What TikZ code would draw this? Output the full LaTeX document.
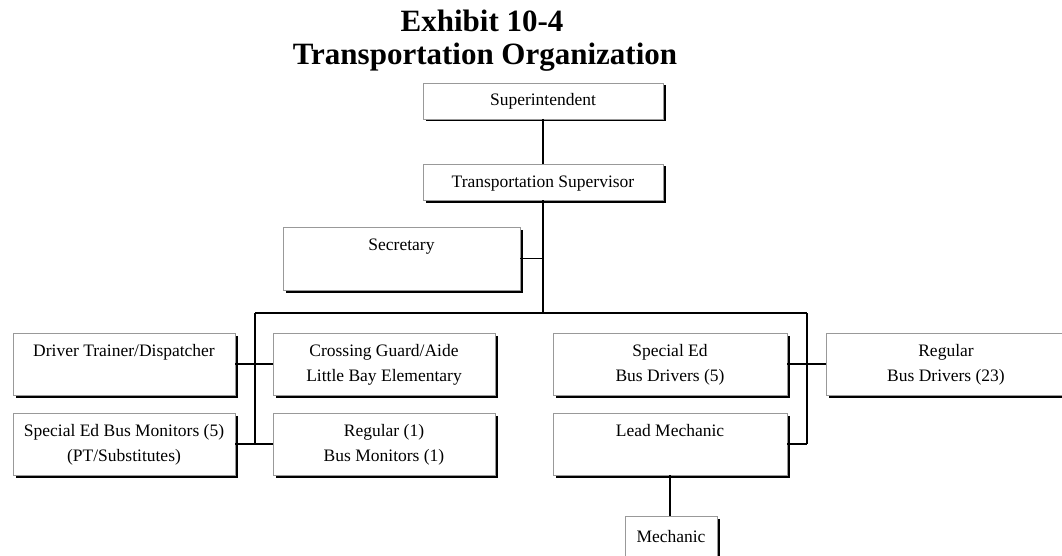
\documentclass[tikz,border=0pt]{standalone}
\usepackage{fontspec}
\setmainfont{Liberation Serif}
\usetikzlibrary{shadows}

% one box of the chart: name, left, top, right, bottom, text (lines split by \\)
\newcommand{\orgbox}[6]{%
  \node[unitbox, minimum width={(#4-#2)*1pt}, minimum height={(#5-#3)*1pt},
        anchor=north west] (#1) at (#2,#3) {};
  \node[boxtext, anchor=base] (#1-t) at ([yshift=-23pt]#1.north)
    {\begin{tabular}[t]{@{}c@{}}#6\end{tabular}};
}

\begin{document}
\begin{tikzpicture}[x=1pt, y=-1pt,
  unitbox/.style={draw=black!40, line width=0.7pt, fill=white, inner sep=0pt,
    outer sep=0pt,
    drop shadow={shadow xshift=2.5pt, shadow yshift=-2.5pt, fill=black, opacity=1}},
  boxtext/.style={font=\fontsize{17.5}{25}\selectfont, inner sep=0pt},
  link/.style={line width=1.6pt, black},
  title/.style={font=\fontsize{31}{33}\selectfont\bfseries, inner sep=0pt, anchor=base}]

\useasboundingbox (0,0) rectangle (1062,556);
\clip (0,0) rectangle (1062,556);

% heading
\node[title] (h1) at (482,32) {Exhibit 10-4};
\node[title] (h2) at (485,65) {Transportation Organization};

% boxes
\orgbox{sup}{423}{83}{663}{119}{Superintendent}
\orgbox{tsup}{423}{164}{663}{200}{Transportation Supervisor}
\orgbox{sec}{283}{227}{520}{290}{Secretary}

\orgbox{dtd}{13}{333}{235}{395}{Driver Trainer/Dispatcher}
\orgbox{cga}{273}{333}{495}{395}{Crossing Guard/Aide\\Little Bay Elementary}
\orgbox{sebd}{553}{333}{787}{395}{Special Ed\\Bus Drivers (5)}
\orgbox{rbd}{826}{333}{1066}{395}{Regular\\Bus Drivers (23)}

\orgbox{sebm}{13}{413}{235}{475}{Special Ed Bus Monitors (5)\\(PT/Substitutes)}
\orgbox{rbm}{273}{413}{495}{475}{Regular (1)\\Bus Monitors (1)}
\orgbox{lm}{553}{413}{787}{475}{Lead Mechanic}
\node[unitbox, minimum width=92pt, minimum height=64pt, anchor=north west]
  (mech) at (625,516) {};
\node[boxtext, anchor=base] (mech-t) at ([yshift=-26pt]mech.north) {Mechanic};

% junction points of the connectors
\coordinate (bus) at (tsup.south |- 0,313);
\coordinate (busL) at (255,313);
\coordinate (busR) at (807,313);
\coordinate (secj) at (tsup.south |- sec.east);
\coordinate (lowL) at (busL |- rbm.west);
\coordinate (lowR) at (busR |- lm.east);
\coordinate (mechj) at (lm.south |- mech.north);

% connectors
\draw[link] (sup.south) -- (tsup.north);
\draw[link] (tsup.south) -- (bus);
\draw[link] (sec.east) -- (secj);
\draw[link] (busL) -- (busR);
\draw[link] (busL) -- (lowL);
\draw[link] (busR) -- (lowR);
\draw[link] (dtd.east) -- (cga.west);
\draw[link] (sebd.east) -- (rbd.west);
\draw[link] (sebm.east) -- (rbm.west);
\draw[link] (lm.east) -- (lowR);
\draw[link] (lm.south) -- (mechj);
\end{tikzpicture}
\end{document}
